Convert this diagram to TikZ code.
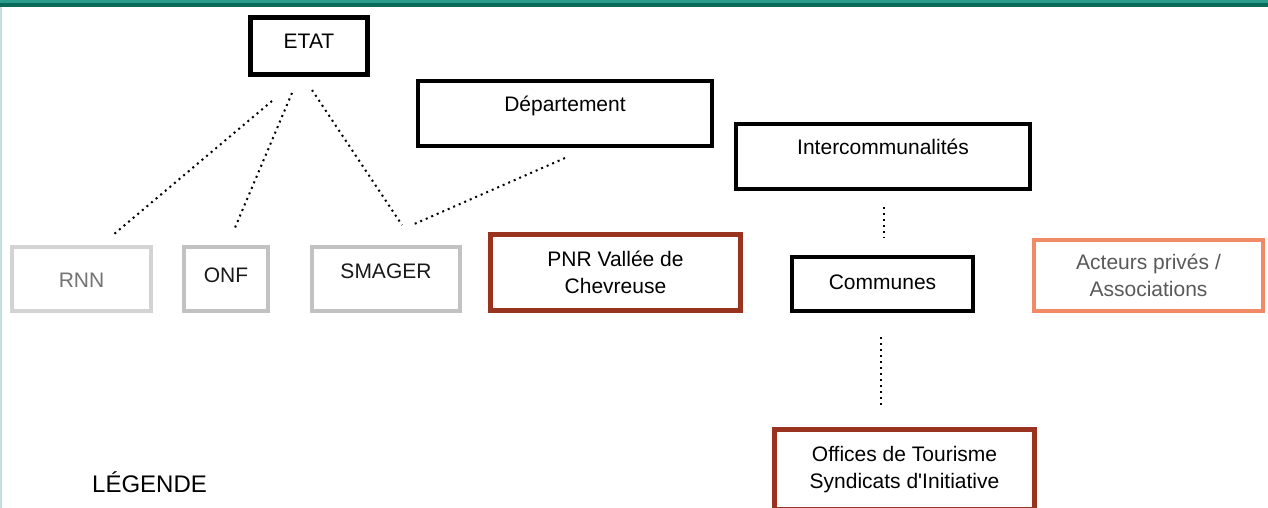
\documentclass[tikz,border=0pt]{standalone}
\usepackage{fontspec}
\setmainfont{Liberation Sans}
\definecolor{tealtop}{HTML}{2A9D8C}
\definecolor{tealdark}{HTML}{0B6B5A}
\definecolor{tealside}{HTML}{BFE0DD}
\definecolor{pnrred}{HTML}{9A3220}
\definecolor{salmon}{HTML}{F28A68}
\definecolor{lightgrey}{HTML}{D3D3D3}
\definecolor{midgrey}{HTML}{C2C2C2}

\begin{document}
\begin{tikzpicture}[x=1pt,y=-1pt,
  box/.style={draw,line width=4pt,outer sep=0pt,inner xsep=0pt,inner ysep=0pt,
    anchor=north west,font=\fontsize{21}{27}\selectfont},
  blackbox/.style={box,draw=black,line width=4.5pt},
  greybox/.style={box,draw=midgrey,text=black!90},
  redbox/.style={box,draw=pnrred,line width=4.5pt,align=center},
  link/.style={line width=2pt,dash pattern=on 2pt off 4pt}]
  \useasboundingbox (0,0) rectangle (1268,508);
  \fill[tealtop] (0,0) rectangle (1268,3);
  \fill[tealdark] (0,3) rectangle (1268,7);
  \fill[tealside] (0,7) rectangle (1.5,508);

  % pouvoirs publics
  \node[blackbox,minimum width=117,text height=31.5,text depth=25.5] (etat) at (250.5,17.5) {ETAT};
  \node[blackbox,minimum width=294,text height=31,text depth=34] (dep) at (418,81) {Département};
  \node[blackbox,minimum width=294,text height=30,text depth=35] (interco) at (736,124) {Intercommunalités};
  \node[blackbox,minimum width=181,text height=32,text depth=22] (communes) at (792,257) {Communes};

  % acteurs
  \node[greybox,draw=lightgrey,text=black!55,minimum width=139,text height=40,text depth=24] (rnn) at (12,247) {RNN};
  \node[greybox,minimum width=84,text height=35,text depth=29] (onf) at (184,247) {ONF};
  \node[greybox,minimum width=148,text height=31,text depth=33] (smager) at (312,247) {SMAGER};
  \node[redbox,minimum width=250,minimum height=76] (pnr) at (490.5,234.5) {PNR Vallée de\\Chevreuse};
  \node[box,draw=salmon,text=black!65,align=center,minimum width=229,minimum height=71] (prives) at (1034,240) {Acteurs privés /\\Associations};
  \node[redbox,minimum width=260,minimum height=80] (offices) at (774.5,429.5) {Offices de Tourisme\\Syndicats d\textquotesingle Initiative};

  \node[anchor=base west,inner sep=0pt,font=\fontsize{24}{28}\selectfont] (legende) at (92,492) {LÉGENDE};

  % liens
  \coordinate (etatA) at (272,101);  \coordinate (rnnT) at (113,235);
  \coordinate (etatB) at (292,93);   \coordinate (onfT) at (234,230);
  \coordinate (etatC) at (312,90);   \coordinate (smagerA) at (402,225);
  \coordinate (depB) at (565,158);   \coordinate (smagerB) at (412,225);
  \coordinate (intercoB) at (884,207); \coordinate (communesT) at (884,238);
  \coordinate (communesB) at (881,337); \coordinate (officesT) at (881,408);
  \draw[link] (etatA) -- (rnnT);
  \draw[link] (etatB) -- (onfT);
  \draw[link] (etatC) -- (smagerA);
  \draw[link] (depB) -- (smagerB);
  \draw[link] (intercoB) -- (communesT);
  \draw[link] (communesB) -- (officesT);
\end{tikzpicture}
\end{document}
